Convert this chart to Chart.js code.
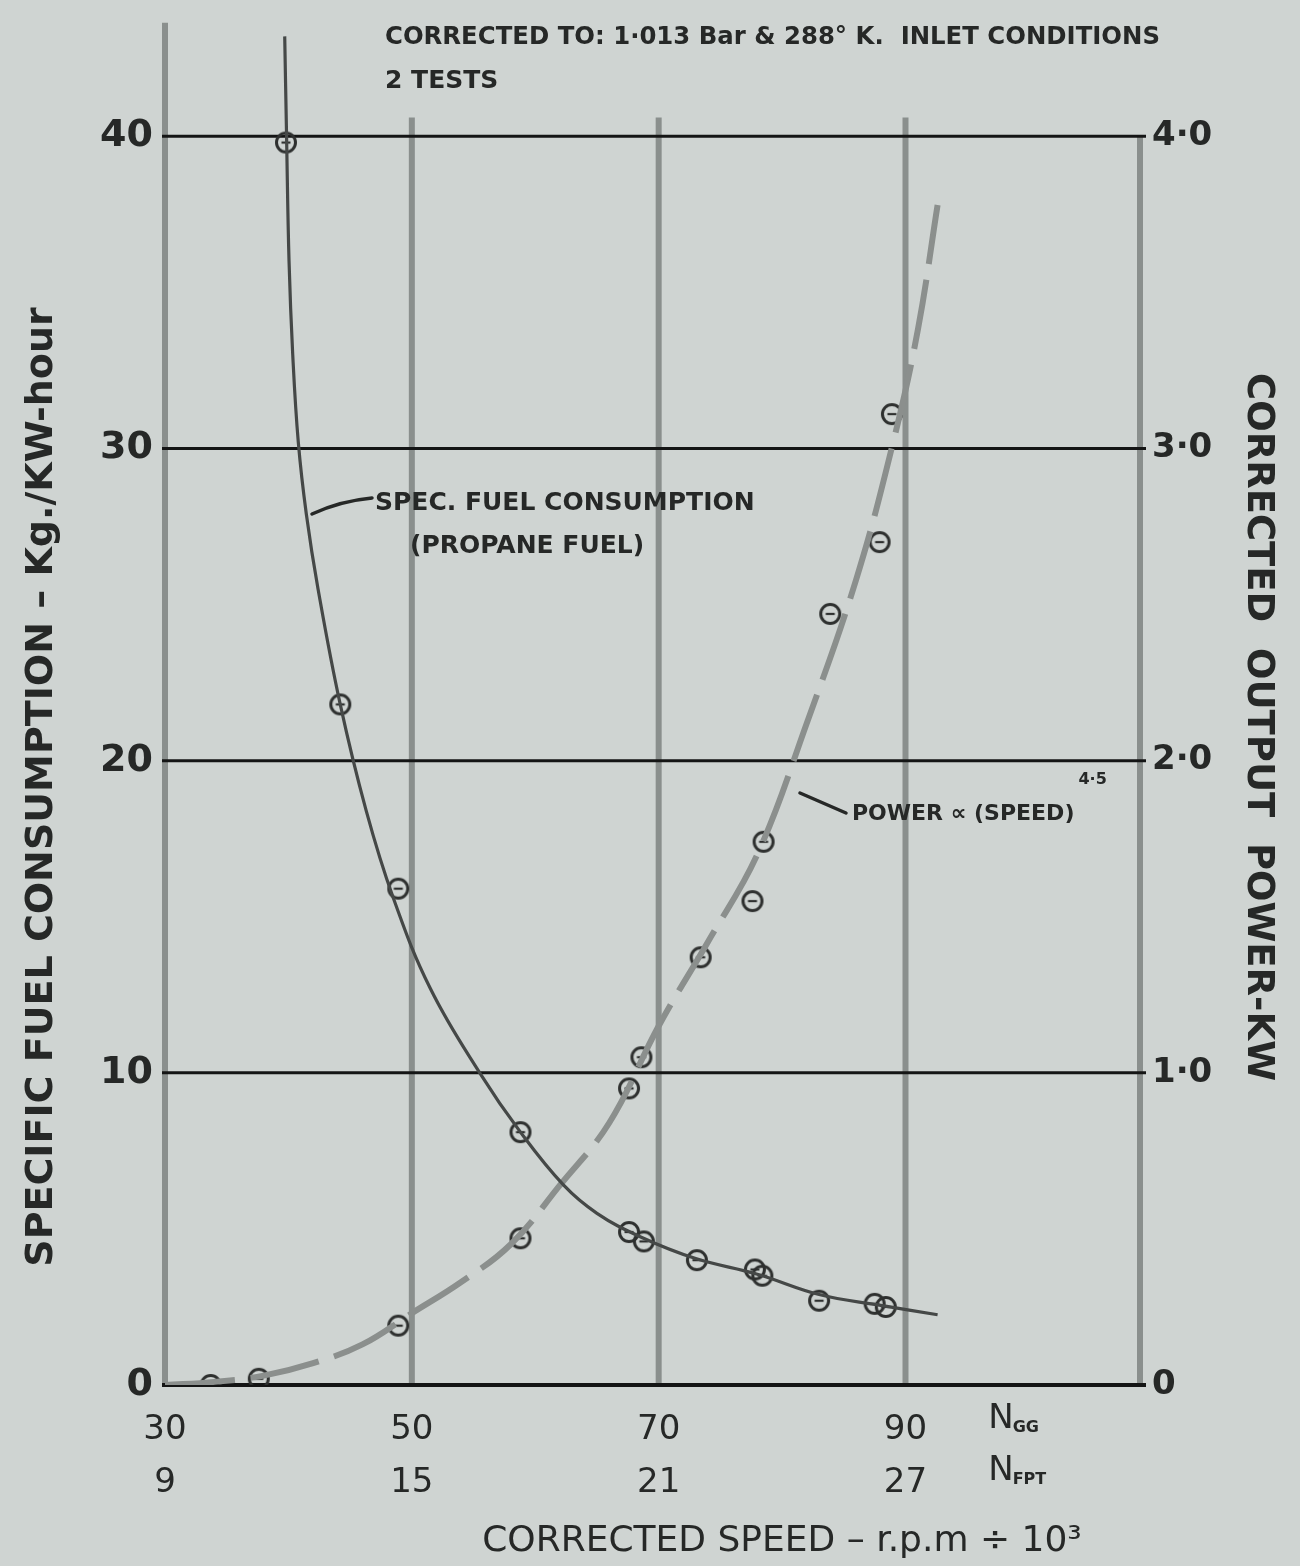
<!DOCTYPE html>
<html><head><meta charset="utf-8">
<script src="https://cdn.jsdelivr.net/npm/chart.js@4.4.1/dist/chart.umd.min.js"></script>
<style>html,body{margin:0;padding:0;background:#cfd4d2;}#wrap{width:1300px;height:1566px;position:relative;}</style>
</head><body><div id="wrap"><canvas id="c" width="1300" height="1566"></canvas></div>
<script>
// ---- data ----
const sfcSpeed = [39.8, 44.2, 48.9, 58.8, 67.6, 68.8, 73.1, 77.8, 78.4, 83.0, 87.5, 88.4];
const sfcValue = [39.8, 21.8, 15.9, 8.1, 4.9, 4.6, 4.0, 3.7, 3.5, 2.7, 2.6, 2.5];
const sfcCurveSpeed = [39.7, 39.85, 40.05, 40.35, 40.8, 41.45, 42.4, 44.2, 46.3, 48.5, 51.5, 55.5, 58.8, 62.3, 65.0, 68.5, 73.0, 78.0, 83.0, 88.0, 92.6];
const sfcCurveValue = [43.2, 40.0, 36.0, 33.0, 30.2, 27.9, 25.5, 21.8, 18.4, 15.6, 12.7, 10.0, 8.1, 6.4, 5.5, 4.75, 4.05, 3.55, 2.9, 2.55, 2.25];
const powerSpeed = [33.7, 37.6, 48.9, 58.8, 67.6, 68.6, 73.4, 77.6, 78.5, 83.9, 87.9, 88.9];
const powerValue = [0.0, 0.02, 0.19, 0.47, 0.95, 1.05, 1.37, 1.55, 1.74, 2.47, 2.70, 3.11];
const powerCurveSpeed = [30.0, 34.0, 38.0, 42.0, 46.0, 50.0, 54.0, 58.0, 62.0, 66.0, 70.0, 74.0, 78.0, 82.0, 86.0, 89.0, 91.0, 92.6];
const powerCurveValue = [0.0, 0.01, 0.03, 0.07, 0.13, 0.23, 0.33, 0.45, 0.64, 0.84, 1.15, 1.42, 1.70, 2.12, 2.58, 3.02, 3.38, 3.78];
const nggTicks = [30, 50, 70, 90];
const nfptTicks = [9, 15, 21, 27];
const speedGrid = [30, 50, 70, 90, 109];
const sfcTicks = [0, 10, 20, 30, 40];
const powerTicks = [0, 1, 2, 3, 4];
const powerTickLabels = ['0', '1·0', '2·0', '3·0', '4·0'];

const BG = '#cfd4d2', INK = '#262827', GRID = '#8a8f8d';
const FONT = '"DejaVu Sans", "Liberation Sans", sans-serif';

function marker() {
  const cv = document.createElement('canvas');
  cv.width = 28; cv.height = 28;
  const g = cv.getContext('2d');
  g.strokeStyle = '#2e302f'; g.lineWidth = 3;
  g.beginPath(); g.arc(14, 14, 9.5, 0, Math.PI * 2); g.stroke();
  g.lineWidth = 2.2; g.beginPath(); g.moveTo(9.5, 14); g.lineTo(18.5, 14); g.stroke();
  return cv;
}
const mk = marker();
const pts = (xs, ys) => xs.map((v, i) => ({x: v, y: ys[i]}));

const paper = {
  id: 'paper',
  beforeDraw(chart) {
    const c = chart.ctx; c.save(); c.fillStyle = BG; c.fillRect(0, 0, chart.width, chart.height); c.restore();
  },
  beforeDatasetsDraw(chart) {
    const {ctx, scales: {x, y}, chartArea} = chart;
    ctx.save();
    ctx.strokeStyle = GRID; ctx.lineWidth = 6;
    speedGrid.forEach(v => {
      const px = x.getPixelForValue(v);
      const top = v === 30 ? chartArea.top - 12 : y.getPixelForValue(v === 109 ? 40 : 40.6);
      ctx.beginPath(); ctx.moveTo(px, top); ctx.lineTo(px, y.getPixelForValue(0) + 2); ctx.stroke();
    });
    ctx.strokeStyle = '#141515';
    sfcTicks.forEach(v => {
      const py = y.getPixelForValue(v);
      ctx.lineWidth = v === 0 ? 4 : 3;
      ctx.beginPath(); ctx.moveTo(x.getPixelForValue(30) - 3, py); ctx.lineTo(x.getPixelForValue(109) + 6, py); ctx.stroke();
    });
    ctx.restore();
  },
  afterDatasetsDraw(chart) {
    const {ctx, scales: {x}} = chart;
    ctx.save();
    ctx.fillStyle = INK; ctx.strokeStyle = INK; ctx.textBaseline = 'alphabetic';
    // header notes
    ctx.font = 'bold 25px ' + FONT; ctx.textAlign = 'left';
    ctx.fillText('CORRECTED TO: 1·013 Bar & 288° K.  INLET CONDITIONS', 385, 44, 775);
    ctx.fillText('2 TESTS', 385, 88, 125);
    // SFC label
    ctx.font = 'bold 25px ' + FONT;
    ctx.fillText('SPEC. FUEL CONSUMPTION', 375, 510, 380);
    ctx.fillText('(PROPANE FUEL)', 410, 553, 268);
    ctx.lineWidth = 3.5; ctx.lineCap = 'round';
    ctx.beginPath(); ctx.moveTo(312, 514); ctx.quadraticCurveTo(340, 501, 372, 498); ctx.stroke();
    // power label
    ctx.font = 'bold 22px ' + FONT;
    const ptxt = 'POWER ∝ (SPEED)';
    const pw = Math.min(ctx.measureText(ptxt).width, 238);
    ctx.fillText(ptxt, 852, 820, 238);
    ctx.font = 'bold 16px ' + FONT;
    ctx.fillText('4·5', 852 + pw + 4, 784, 30);
    ctx.lineWidth = 3.5;
    ctx.beginPath(); ctx.moveTo(800, 793); ctx.lineTo(846, 813); ctx.stroke();
    // speed symbols
    const sx = x.getPixelForValue(96.7);
    ctx.font = '34px ' + FONT;
    ctx.fillText('N', sx, 1428); ctx.fillText('N', sx, 1480);
    const nw = ctx.measureText('N').width;
    ctx.font = 'bold 16px ' + FONT;
    ctx.fillText('GG', sx + nw - 1, 1432, 34);
    ctx.fillText('FPT', sx + nw - 1, 1484, 40);
    // axis titles
    ctx.font = 'bold 38px ' + FONT; ctx.textAlign = 'center'; ctx.textBaseline = 'middle';
    ctx.save(); ctx.translate(42, 787); ctx.rotate(-Math.PI / 2);
    ctx.fillText('SPECIFIC FUEL CONSUMPTION – Kg./KW-hour', 0, 0, 1015); ctx.restore();
    ctx.font = 'bold 37px ' + FONT;
    ctx.save(); ctx.translate(1258, 727); ctx.rotate(Math.PI / 2);
    ctx.fillText('CORRECTED  OUTPUT  POWER-KW', 0, 0, 745); ctx.restore();
    ctx.font = '36px ' + FONT;
    ctx.fillText('CORRECTED SPEED – r.p.m ÷ 10³', 782, 1542, 615);
    ctx.restore();
  }
};

new Chart(document.getElementById('c'), {
  type: 'line',
  data: {
    datasets: [
      {label: 'SFC curve', data: pts(sfcCurveSpeed, sfcCurveValue), yAxisID: 'y', borderColor: '#454847', borderWidth: 3.2, pointRadius: 0, tension: 0.4, fill: false},
      {label: 'Power curve', data: pts(powerCurveSpeed, powerCurveValue), yAxisID: 'y2', borderColor: '#8b8f8d', borderWidth: 6, borderDash: [70, 16], pointRadius: 0, tension: 0.4, fill: false},
      {label: 'SFC tests', data: pts(sfcSpeed, sfcValue), yAxisID: 'y', showLine: false, pointStyle: mk, pointRadius: 11},
      {label: 'Power tests', data: pts(powerSpeed, powerValue), yAxisID: 'y2', showLine: false, pointStyle: mk, pointRadius: 11}
    ]
  },
  options: {
    responsive: false, animation: false, devicePixelRatio: 1,
    layout: {padding: {top: 10, left: 0, right: 0, bottom: 0}},
    plugins: {legend: {display: false}, tooltip: {enabled: false}},
    scales: {
      x: {
        type: 'linear', min: 30, max: 109,
        afterBuildTicks: s => { s.ticks = nggTicks.map(v => ({value: v})); },
        afterFit: s => { s.height = 181; },
        grid: {display: false, drawTicks: false}, border: {display: false},
        ticks: {
          padding: 19, color: INK, maxRotation: 0, autoSkip: false,
          font: {family: FONT, size: 34, lineHeight: 1.55},
          callback: (v, i) => [String(nggTicks[i]), String(nfptTicks[i])]
        }
      },
      y: {
        type: 'linear', position: 'left', min: 0, max: 43.25,
        afterBuildTicks: s => { s.ticks = sfcTicks.map(v => ({value: v})); },
        afterFit: s => { s.width = 165; },
        grid: {display: false, drawTicks: false}, border: {display: false},
        ticks: {padding: 12, color: INK, font: {family: FONT, size: 38, weight: 'bold'}, callback: v => String(v)}
      },
      y2: {
        type: 'linear', position: 'right', min: 0, max: 4.325,
        afterBuildTicks: s => { s.ticks = powerTicks.map(v => ({value: v})); },
        afterFit: s => { s.width = 160; },
        grid: {display: false, drawTicks: false}, border: {display: false},
        ticks: {padding: 12, color: INK, font: {family: FONT, size: 34, weight: 'bold'}, callback: (v, i) => powerTickLabels[i]}
      }
    }
  },
  plugins: [paper]
});
</script></body></html>
